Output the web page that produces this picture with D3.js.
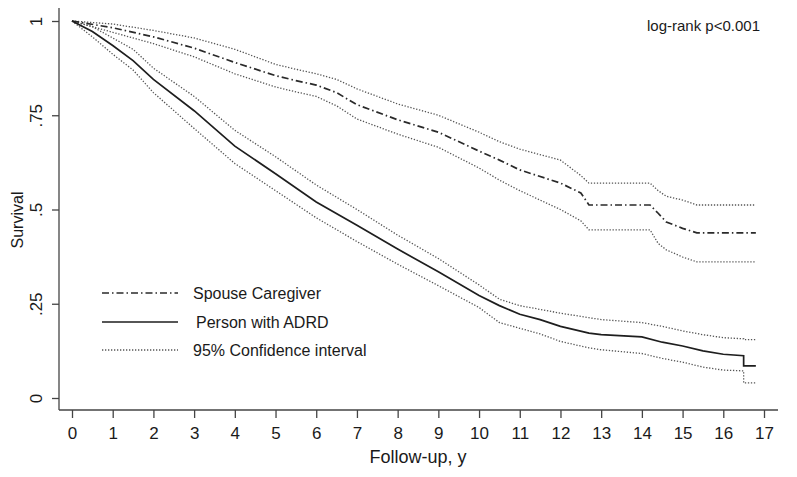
<!DOCTYPE html>
<html><head><meta charset="utf-8">
<script src="https://cdn.jsdelivr.net/npm/d3@7"></script>
<style>body{margin:0;background:#fff}svg{display:block}text{font-family:"Liberation Sans",Arial,sans-serif;fill:#1a1a1a}</style>
</head><body><svg id="c" width="797" height="477"></svg>
<script>
// Person with ADRD (Kaplan-Meier) and 95% CI
const adrdTime  = [0,0.5,1,1.5,2,3,4,5,6,7,8,9,10,10.5,11,11.5,12,12.7,13,14,14.5,15,15.5,16,16.5,16.5,16.8];
const adrdSurv  = [1,0.972,0.935,0.895,0.845,0.762,0.668,0.595,0.52,0.458,0.395,0.335,0.272,0.245,0.222,0.208,0.19,0.172,0.168,0.162,0.148,0.138,0.125,0.116,0.112,0.085,0.085];
const adrdUpper = [1,0.985,0.955,0.925,0.875,0.8,0.71,0.64,0.565,0.5,0.432,0.37,0.3,0.262,0.245,0.235,0.225,0.213,0.208,0.2,0.19,0.178,0.168,0.16,0.157,0.155,0.155];
const adrdLower = [1,0.958,0.912,0.87,0.81,0.715,0.622,0.55,0.478,0.415,0.355,0.298,0.24,0.2,0.185,0.17,0.15,0.133,0.128,0.118,0.105,0.095,0.082,0.074,0.072,0.04,0.04];
// Spouse caregiver and 95% CI
const spTime  = [0,1,2,3,4,5,5.5,6,6.5,7,8,9,10,10.5,11,12,12.5,12.7,14.2,14.4,14.6,15,15.35,16.8];
const spSurv  = [1,0.982,0.958,0.928,0.89,0.855,0.842,0.83,0.81,0.778,0.738,0.705,0.655,0.631,0.605,0.57,0.544,0.512,0.512,0.49,0.467,0.45,0.438,0.438];
const spUpper = [1,0.992,0.975,0.955,0.925,0.885,0.872,0.86,0.845,0.82,0.78,0.75,0.705,0.68,0.66,0.631,0.59,0.57,0.57,0.55,0.535,0.525,0.512,0.512];
const spLower = [1,0.97,0.94,0.905,0.86,0.825,0.812,0.8,0.775,0.74,0.7,0.665,0.61,0.578,0.55,0.5,0.47,0.446,0.446,0.41,0.393,0.374,0.361,0.361];
const xTicks = d3.range(0,18);
const yTicks = [0,0.25,0.5,0.75,1];
const yTickLabels = ["0",".25",".5",".75","1"];
const legendLabels = ["Spouse Caregiver","Person with ADRD","95% Confidence interval"];

const svg = d3.select("#c");
const x = d3.scaleLinear().domain([0,17]).range([72,764]);
const y = d3.scaleLinear().domain([0,1]).range([398,21]);

// axes
svg.append("line").attr("x1",59).attr("x2",59).attr("y1",8).attr("y2",410).attr("stroke","#444").attr("stroke-width",1.3);
svg.append("line").attr("x1",59).attr("x2",778).attr("y1",410).attr("y2",410).attr("stroke","#444").attr("stroke-width",1.3);
const xa = d3.axisBottom(x).tickValues(xTicks).tickSize(8).tickFormat(d3.format("d"));
const gx = svg.append("g").attr("transform","translate(0,410)").call(xa);
gx.select(".domain").remove();
gx.selectAll("line").attr("stroke","#444").attr("stroke-width",1.3);
gx.selectAll("text").attr("font-size",17).attr("font-family",null).attr("fill","#1a1a1a").attr("dy",null).attr("y",29);
const ya = d3.axisLeft(y).tickValues(yTicks).tickSize(7).tickFormat(d=>yTickLabels[yTicks.indexOf(d)]);
const gy = svg.append("g").attr("transform","translate(59,0)").call(ya);
gy.select(".domain").remove();
gy.selectAll("line").attr("stroke","#444").attr("stroke-width",1.3);
gy.selectAll("text").attr("font-size",17).attr("font-family",null).attr("fill","#1a1a1a").attr("x",null).attr("dy",null)
  .attr("text-anchor","middle").attr("transform","translate(-17,0) rotate(-90)");

svg.append("text").attr("x",418).attr("y",463).attr("text-anchor","middle").attr("font-size",18).text("Follow-up, y");
svg.append("text").attr("transform","translate(23,220) rotate(-90)").attr("text-anchor","middle").attr("font-size",16).text("Survival");
svg.append("text").attr("x",760).attr("y",31).attr("text-anchor","end").attr("font-size",15).text("log-rank p<0.001");

const line = (t,s) => d3.line().x((d,i)=>x(t[i])).y(d=>y(d)).curve(d3.curveLinear)(s);
const ciStyle = p => p.attr("fill","none").attr("stroke","#555").attr("stroke-width",1.3).attr("stroke-dasharray","1.3,1.7");
[[spTime,spUpper],[spTime,spLower],[adrdTime,adrdUpper],[adrdTime,adrdLower]].forEach(([t,s])=>{
  ciStyle(svg.append("path").attr("d",line(t,s)));
});
svg.append("path").attr("d",line(spTime,spSurv)).attr("fill","none").attr("stroke","#2a2a2a").attr("stroke-width",1.7).attr("stroke-dasharray","7,3,1.5,3");
svg.append("path").attr("d",line(adrdTime,adrdSurv)).attr("fill","none").attr("stroke","#1e1e1e").attr("stroke-width",1.7);

// legend
const lg = [
  {y:293, dash:"7,3,1.5,3", w:1.7, c:"#2a2a2a", tx:193},
  {y:322, dash:null, w:1.7, c:"#1e1e1e", tx:196},
  {y:350, dash:"1.3,1.7", w:1.3, c:"#555", tx:193}
];
lg.forEach((d,i)=>{
  const l = svg.append("line").attr("x1",102).attr("x2",178).attr("y1",d.y).attr("y2",d.y).attr("stroke",d.c).attr("stroke-width",d.w);
  if(d.dash) l.attr("stroke-dasharray",d.dash);
  svg.append("text").attr("x",d.tx).attr("y",d.y+6).attr("font-size",16).text(legendLabels[i]);
});
</script></body></html>
